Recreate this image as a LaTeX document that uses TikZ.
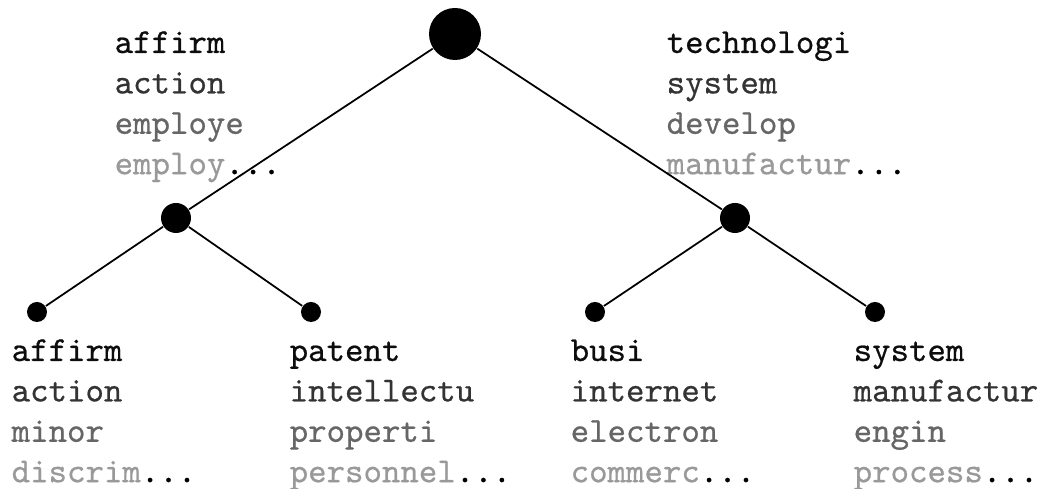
\documentclass[tikz,border=0pt]{standalone}
\usepackage{fontspec}
\usepackage{xcolor}
\usepackage{tikz}
\usetikzlibrary{positioning}

\newfontfamily\termfont[FakeBold=0.6]{Latin Modern Mono}

% four stemmed terms per topic, fading out, then an ellipsis
\newcommand{\topterms}[4]{%
  \strut\textcolor{black!95}{#1}\\
  \textcolor{black!80}{#2}\\
  \textcolor{black!60}{#3}\\
  \textcolor{black!40}{#4}...}

\begin{document}
\begin{tikzpicture}[
    topic/.style={circle, fill=black, inner sep=0pt, minimum size=#1},
    terms/.style={anchor=north west, inner sep=0pt, align=left,
                  font=\termfont\fontsize{10}{11.5}\selectfont},
    edge/.style={line width=0.5pt},
  ]
  \useasboundingbox (0,0) rectangle (10.41,-4.89);

  % ── Row 0: root ──
  \node[topic=5.2mm] at (4.55,-0.34) (root) {};
  \node[terms] at (1.14,-0.24) (rootL)
    {\topterms{affirm}{action}{employe}{employ}};
  \node[terms] at (6.66,-0.24) (rootR)
    {\topterms{technologi}{system}{develop}{manufactur}};

  % ── Row 1: two subtopics ──
  \node[topic=3mm] at (1.76,-2.18) (left) {};
  \node[topic=3mm] at (7.35,-2.18) (right) {};

  % ── Row 2: leaves ──
  \node[topic=2mm] at (0.37,-3.12) (leftA) {};
  \node[topic=2mm] at (3.11,-3.12) (leftB) {};
  \node[topic=2mm] at (5.95,-3.12) (rightA) {};
  \node[topic=2mm] at (8.75,-3.12) (rightB) {};

  \node[terms] at (0.11,-3.32) (leftAtxt)
    {\topterms{affirm}{action}{minor}{discrim}};
  \node[terms] at (2.89,-3.32) (leftBtxt)
    {\topterms{patent}{intellectu}{properti}{personnel}};
  \node[terms] at (5.70,-3.32) (rightAtxt)
    {\topterms{busi}{internet}{electron}{commerc}};
  \node[terms] at (8.53,-3.32) (rightBtxt)
    {\topterms{system}{manufactur}{engin}{process}};

  % ── Edges ──
  \draw[edge] (root) -- (left);
  \draw[edge] (root) -- (right);
  \draw[edge] (left) -- (leftA);
  \draw[edge] (left) -- (leftB);
  \draw[edge] (right) -- (rightA);
  \draw[edge] (right) -- (rightB);

\end{tikzpicture}
\end{document}
